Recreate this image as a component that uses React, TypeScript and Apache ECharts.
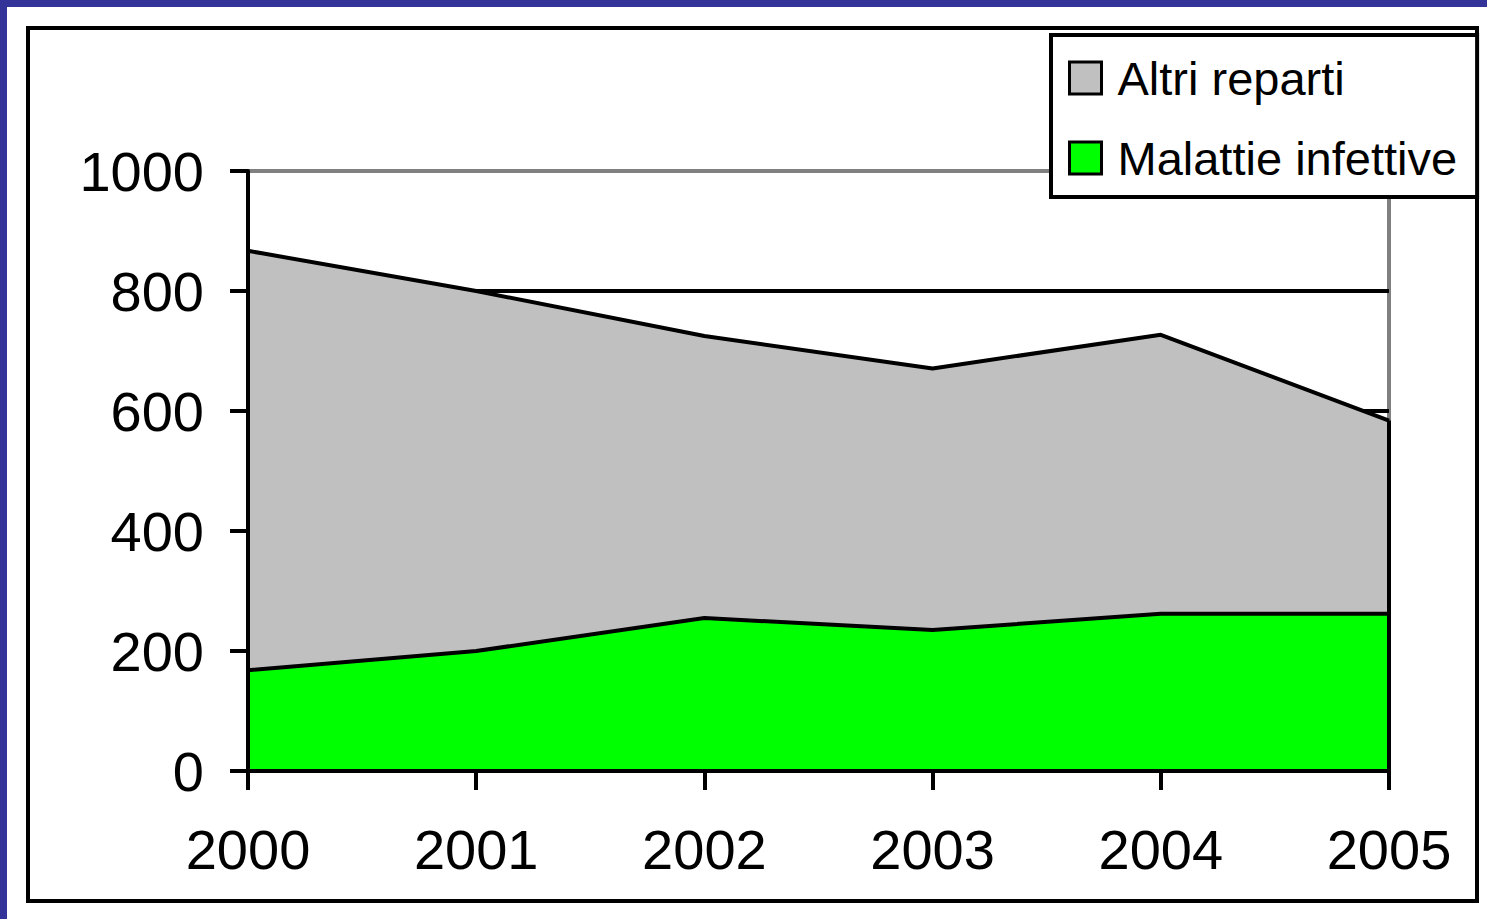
import React, { useEffect, useRef } from "react";
import * as echarts from "echarts";

const years = ["2000", "2001", "2002", "2003", "2004", "2005"];
const malattieInfettive = [168, 200, 255, 235, 262, 262];
const altriReparti = [699, 600, 470, 436, 465, 322];
const yTicks = [0, 200, 400, 600, 800, 1000];
const legendNames = ["Altri reparti", "Malattie infettive"];

const FONT = "'Liberation Sans', Arial, sans-serif";
const LW = 4;

export default function App() {
  const ref = useRef<HTMLDivElement>(null);

  useEffect(() => {
    if (!ref.current) return;
    const chart = echarts.init(ref.current, undefined, { renderer: "svg" });
    const lastIdx = years.length - 1;
    const lastTotal = malattieInfettive[lastIdx] + altriReparti[lastIdx];
    const yBase = {
      type: "value",
      min: yTicks[0],
      max: yTicks[yTicks.length - 1],
      interval: yTicks[1] - yTicks[0],
    };
    chart.setOption({
      animation: false,
      backgroundColor: "#ffffff",
      textStyle: { fontFamily: FONT },
      graphic: [
        { type: "rect", z: -10, shape: { x: 0, y: 0, width: 1487, height: 7 }, style: { fill: "#333399" } },
        { type: "rect", z: -10, shape: { x: 0, y: 0, width: 7, height: 919 }, style: { fill: "#333399" } },
        {
          type: "rect",
          z: -10,
          shape: { x: 28, y: 28, width: 1449, height: 873 },
          style: { fill: "none", stroke: "#000", lineWidth: LW },
        },
      ],
      grid: {
        left: 248,
        right: 98,
        top: 171,
        bottom: 148,
        show: true,
        borderColor: "#808080",
        borderWidth: LW,
        backgroundColor: "transparent",
        z: 0,
      },
      legend: {
        orient: "vertical",
        left: 1051,
        top: 35,
        z: 20,
        data: legendNames,
        icon: "rect",
        itemWidth: 32,
        itemHeight: 32,
        itemGap: 32,
        itemStyle: { borderColor: "#000", borderWidth: 3 },
        textStyle: {
          fontSize: 47,
          fontFamily: FONT,
          color: "#000",
          lineHeight: 48,
          padding: [0, 0, 0, 11],
        },
        backgroundColor: "#fff",
        borderColor: "#000",
        borderWidth: LW,
        padding: [19, 20, 15, 17],
      },
      xAxis: {
        type: "category",
        data: years,
        boundaryGap: false,
        axisLine: { lineStyle: { color: "#000", width: LW } },
        axisTick: { show: true, length: 19, lineStyle: { color: "#000", width: LW } },
        axisLabel: { fontSize: 56, color: "#000", fontFamily: FONT, margin: 50 },
        splitLine: { show: false },
        z: 5,
      },
      yAxis: [
        {
          ...yBase,
          axisLine: { show: false },
          axisTick: { show: false },
          axisLabel: { show: false },
          splitLine: {
            show: true,
            lineStyle: { color: ["#000", "#000", "#000", "#000", "#000", "#808080"], width: LW },
          },
          z: 0,
        },
        {
          ...yBase,
          position: "left",
          axisLine: { show: true, lineStyle: { color: "#000", width: LW } },
          axisTick: { show: true, length: 18, lineStyle: { color: "#000", width: LW } },
          axisLabel: {
            fontSize: 56,
            color: "#000",
            fontFamily: FONT,
            margin: 44,
            formatter: (v: number) => String(v),
          },
          splitLine: { show: false },
          z: 5,
        },
      ],
      series: [
        {
          name: "Malattie infettive",
          type: "line",
          stack: "total",
          yAxisIndex: 0,
          data: malattieInfettive,
          symbol: "none",
          showSymbol: false,
          itemStyle: { color: "#00ff00" },
          lineStyle: { color: "#000", width: LW },
          areaStyle: { color: "#00ff00", opacity: 1 },
          z: 3,
        },
        {
          name: "Altri reparti",
          type: "line",
          stack: "total",
          yAxisIndex: 0,
          data: altriReparti,
          symbol: "none",
          showSymbol: false,
          itemStyle: { color: "#c0c0c0" },
          lineStyle: { color: "#000", width: LW },
          areaStyle: { color: "#c0c0c0", opacity: 1 },
          z: 2,
          markLine: {
            silent: true,
            symbol: "none",
            label: { show: false },
            lineStyle: { color: "#000", width: LW, type: "solid" },
            data: [[{ coord: [lastIdx, 0] }, { coord: [lastIdx, lastTotal] }]],
          },
        },
      ],
    });
    return () => chart.dispose();
  }, []);

  return (
    <div
      ref={ref}
      style={{ position: "absolute", left: 0, top: 0, width: 1487, height: 919, background: "#fff" }}
    />
  );
}
